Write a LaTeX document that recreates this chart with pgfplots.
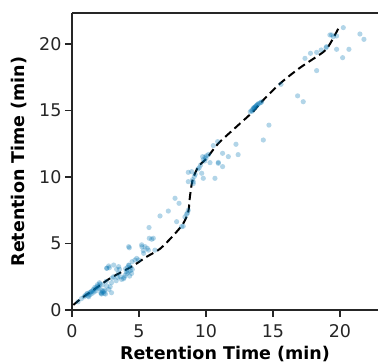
\documentclass[border=0pt]{standalone}
\usepackage{pgfplots}
\pgfplotsset{compat=1.18}
\usepackage{fontspec}
\setmainfont{DejaVu Sans}
\definecolor{cbblue}{HTML}{0173B2}
\definecolor{spine}{HTML}{262626}
\begin{document}
\begin{tikzpicture}
\begin{axis}[
  name=ax,
  scale only axis,
  width=306pt, height=297pt,
  xmin=0, xmax=22.84, ymin=0, ymax=22.33,
  separate axis lines,
  axis x line*=box, axis y line*=left,
  axis line style={-, line width=1.3pt, color=spine},
  xtick={0,5,10,15,20}, ytick={0,5,10,15,20},
  xtick pos=lower, ytick pos=left,
  tick align=outside,
  major tick length=7pt,
  every tick/.style={line width=1.3pt, color=spine},
  /pgf/number format/assume math mode=true,
  tick label style={font=\fontsize{17.5}{20}\selectfont, color=spine},
  xticklabel style={yshift=-4pt},
  xlabel={\textbf{Retention Time (min)}},
  ylabel={\textbf{Retention Time (min)}},
  label style={font=\fontsize{17.5}{20}\selectfont},
  xlabel style={yshift=-1.5pt},
  ylabel style={yshift=6pt},
  clip=false,
]
\coordinate (BL) at (rel axis cs:0,0);
\coordinate (TR) at (rel axis cs:1,1);
\addplot[only marks, color=cbblue, mark=*, mark size=2.6pt,
  mark options={draw opacity=0, fill=cbblue, fill opacity=0.3}] table {
x y
0.45 0.62
0.7 0.85
0.9 1.0
1.0 1.1
1.1 1.2
1.2 1.05
1.3 1.3
1.35 1.15
1.45 1.4
1.5 1.25
1.6 1.55
1.65 1.35
1.75 1.6
1.8 1.45
1.85 1.75
1.9 1.9
2.0 1.8
2.05 2.05
2.1 1.6
2.15 1.3
2.2 1.2
2.3 1.35
2.4 1.25
2.5 1.2
2.45 1.5
2.3 1.9
2.55 2.15
2.6 1.8
2.75 1.55
2.85 1.75
2.95 2.05
3.0 2.4
3.1 2.5
2.95 1.3
3.3 2.2
3.4 2.45
3.45 2.75
3.6 2.5
3.7 2.3
3.85 2.35
3.95 2.6
4.05 2.9
4.2 2.85
4.3 2.55
4.45 2.75
4.5 3.05
4.4 3.2
4.25 3.35
4.0 3.1
3.55 3.06
3.33 3.06
2.79 3.18
2.59 3.13
2.74 3.31
3.11 3.38
3.48 3.26
4.23 3.38
4.48 3.63
4.7 3.76
4.83 3.88
4.98 3.76
5.35 4.26
5.22 4.76
4.23 4.76
4.28 4.68
5.45 4.76
5.62 4.64
5.32 4.46
5.2 4.9
5.7 4.5
5.77 5.39
5.95 5.32
5.75 6.2
6.07 5.39
6.19 4.5
6.57 7.07
7.19 7.44
7.69 8.4
7.99 8.02
7.81 6.64
8.18 6.27
8.3 6.3
8.43 7.0
8.55 7.2
8.68 7.5
8.62 7.3
8.68 10.35
8.93 10.4
8.68 9.65
9.05 9.65
9.0 9.8
9.05 9.5
9.13 10.03
9.68 10.28
9.8 9.9
10.67 9.9
9.75 11.53
9.93 11.5
10.0 11.4
10.05 11.6
9.9 11.2
9.6 10.9
9.5 10.7
9.4 10.6
10.2 11.7
10.3 11.08
10.55 12.36
10.87 12.66
10.92 11.1
11.24 10.78
11.24 11.78
11.67 11.53
12.24 12.46
12.4 11.68
10.92 11.03
13.3 14.9
13.4 15.0
13.45 14.95
13.5 15.1
13.55 15.2
13.6 15.15
13.65 15.25
13.7 15.3
13.75 15.35
13.8 15.4
13.9 15.5
14.0 15.55
14.1 15.6
14.15 15.65
14.28 12.78
14.7 13.9
15.6 16.97
16.84 16.1
17.26 15.66
17.39 18.92
17.8 19.3
18.26 19.37
18.6 19.55
18.96 19.72
19.0 19.8
18.26 18.0
19.25 20.68
19.38 20.68
19.5 20.55
19.75 20.6
19.75 19.6
20.67 19.6
20.2 18.97
20.25 21.23
21.49 20.75
21.79 20.35
1.15 1.25
1.4 1.35
1.55 1.45
1.7 1.7
1.95 1.65
2.1 1.95
2.25 1.45
2.4 1.4
1.25 1.0
2.2 1.25
4.1 2.75
4.35 2.95
4.15 3.2
3.9 2.45
2.6 3.15
9.2 10.2
9.8 11.3
13.6 15.2
13.85 15.45
};
\addplot[black, line width=2pt, dash pattern=on 8pt off 4.5pt, smooth, tension=0.5] table {
x y
0.1 0.38
0.8 0.95
1.6 1.5
2.84 2.38
4.45 3.26
5.57 4.0
6.57 4.6
7.56 5.6
8.3 6.5
8.68 7.4
8.8 8.5
9.0 9.77
9.43 10.77
10.05 11.4
10.9 12.5
12.3 13.8
13.5 14.9
14.15 15.65
15.5 17.0
17.0 18.2
18.76 19.4
19.25 20.0
19.9 21.2
};
\end{axis}
\pgfresetboundingbox
\path ([xshift=-72pt,yshift=-54pt]BL) rectangle ([yshift=13pt]TR);
\end{tikzpicture}
\end{document}
